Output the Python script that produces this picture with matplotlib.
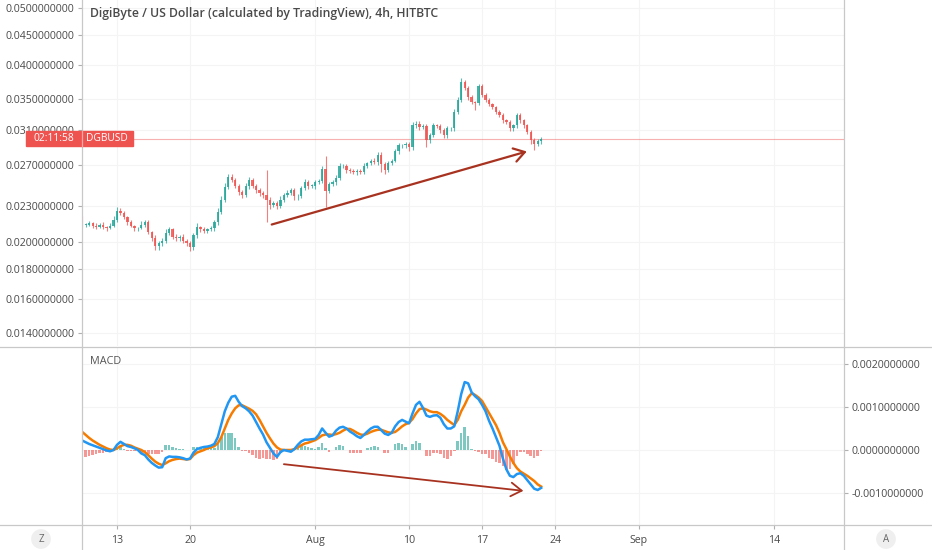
import numpy as np
import pandas as pd
import matplotlib
matplotlib.use('Agg')
import matplotlib.pyplot as plt
import matplotlib.dates as mdates
from matplotlib.patches import Rectangle
from matplotlib.lines import Line2D

plt.rcParams['font.family'] = ['Open Sans', 'DejaVu Sans']

# 8h candles, DGB/USD
first_open = 0.0218
closes = [
    0.0214, 0.0214, 0.0215, 0.0213, 0.0212, 0.0214, 0.0212, 0.0211, 0.0213, 0.0218,
    0.0226, 0.0224, 0.0220, 0.0216, 0.0213, 0.0211, 0.0211, 0.0214, 0.0216, 0.0208,
    0.0203, 0.0197, 0.0199, 0.0201, 0.0207, 0.0210, 0.0204, 0.0203, 0.0204, 0.0201,
    0.0199, 0.0196, 0.0205, 0.0212, 0.0210, 0.0209, 0.0210, 0.0211, 0.0216, 0.0225,
    0.0236, 0.0248, 0.0258, 0.0255, 0.0249, 0.0243, 0.0240, 0.0249, 0.0255, 0.0249,
    0.0245, 0.0242, 0.0240, 0.0236, 0.0231, 0.0233, 0.0230, 0.0236, 0.0240, 0.0242,
    0.0245, 0.0239, 0.0239, 0.0247, 0.0253, 0.0249, 0.0249, 0.0253, 0.0254, 0.0266,
    0.0244, 0.0251, 0.0253, 0.0257, 0.0269, 0.0269, 0.0265, 0.0264, 0.0263, 0.0264,
    0.0263, 0.0269, 0.0272, 0.0275, 0.0273, 0.0281, 0.0271, 0.0265, 0.0272, 0.0275,
    0.0285, 0.0292, 0.0292, 0.0294, 0.0290, 0.0316, 0.0318, 0.0314, 0.0315, 0.0298,
    0.0304, 0.0316, 0.0315, 0.0310, 0.0304, 0.0312, 0.0312, 0.0333, 0.0349, 0.0374,
    0.0365, 0.0353, 0.0346, 0.0345, 0.0369, 0.0356, 0.0349, 0.0343, 0.0339, 0.0333,
    0.0329, 0.0322, 0.0320, 0.0312, 0.0316, 0.0329, 0.0322, 0.0316, 0.0308, 0.0298,
    0.0294, 0.0297, 0.0299]

# wick lengths above / below the body, in units of 0.0001
up_wick = [
    3, 1, 2, 1, 2, 1, 2, 1, 2, 3,
    3, 2, 2, 1, 2, 1, 1, 3, 2, 2,
    1, 2, 2, 2, 3, 2, 1, 2, 1, 2,
    1, 2, 2, 3, 1, 2, 1, 2, 2, 3,
    3, 4, 3, 3, 2, 2, 2, 3, 3, 2,
    2, 2, 2, 25, 2, 2, 2, 3, 2, 3,
    2, 2, 2, 2, 3, 2, 2, 2, 2, 3,
    14, 2, 2, 3, 3, 2, 2, 2, 2, 2,
    2, 3, 2, 2, 3, 3, 3, 2, 3, 2,
    3, 3, 2, 2, 2, 4, 3, 3, 3, 2,
    3, 3, 2, 2, 2, 3, 2, 4, 4, 6,
    3, 3, 2, 2, 3, 3, 2, 2, 2, 2,
    2, 2, 2, 2, 2, 3, 3, 2, 2, 2,
    2, 2, 3]
down_wick = [
    2, 2, 1, 2, 2, 1, 2, 2, 1, 1,
    2, 2, 1, 2, 1, 2, 2, 1, 2, 2,
    2, 3, 3, 2, 2, 2, 2, 2, 2, 2,
    2, 3, 2, 2, 2, 2, 2, 1, 2, 2,
    2, 2, 2, 2, 2, 3, 3, 2, 3, 2,
    3, 3, 3, 20, 4, 2, 3, 2, 2, 2,
    2, 3, 3, 2, 2, 3, 2, 3, 2, 2,
    15, 2, 2, 3, 2, 2, 3, 2, 2, 3,
    2, 2, 2, 2, 2, 3, 8, 4, 2, 2,
    2, 3, 3, 3, 4, 3, 3, 4, 3, 8,
    3, 2, 3, 3, 4, 3, 3, 3, 3, 3,
    3, 4, 3, 10, 3, 3, 3, 3, 3, 3,
    3, 3, 3, 3, 3, 3, 3, 3, 3, 5,
    7, 3, 3]

macd = [
    0.00022, 0.00018, 0.00014, 0.00011, 0.00008, 0.00005, 0.00002, -0.00001, -0.00003, 0.00000,
    0.00012, 0.00019, 0.00014, 0.00009, 0.00007, 0.00004, 0.00000, -0.00008, -0.00012, -0.00022,
    -0.00030, -0.00036, -0.00041, -0.00040, -0.00019, -0.00015, -0.00016, -0.00016, -0.00017, -0.00019,
    -0.00022, -0.00020, -0.00006, 0.00002, 0.00005, 0.00007, 0.00008, 0.00010, 0.00014, 0.00030,
    0.00060, 0.00090, 0.00110, 0.00124, 0.00126, 0.00112, 0.00102, 0.00097, 0.00090, 0.00080,
    0.00065, 0.00050, 0.00036, 0.00018, 0.00005, -0.00008, -0.00016, -0.00005, 0.00000, -0.00002,
    -0.00004, 0.00002, 0.00012, 0.00020, 0.00024, 0.00024, 0.00025, 0.00026, 0.00035, 0.00050,
    0.00040, 0.00031, 0.00034, 0.00045, 0.00052, 0.00054, 0.00050, 0.00043, 0.00038, 0.00032,
    0.00028, 0.00035, 0.00043, 0.00050, 0.00054, 0.00054, 0.00046, 0.00038, 0.00035, 0.00040,
    0.00055, 0.00065, 0.00070, 0.00066, 0.00062, 0.00085, 0.00105, 0.00112, 0.00098, 0.00080,
    0.00077, 0.00080, 0.00081, 0.00075, 0.00060, 0.00050, 0.00050, 0.00055, 0.00090, 0.00130,
    0.00158, 0.00155, 0.00134, 0.00125, 0.00118, 0.00105, 0.00090, 0.00068, 0.00050, 0.00030,
    0.00010, -0.00020, -0.00045, -0.00060, -0.00063, -0.00056, -0.00054, -0.00060, -0.00070, -0.00080,
    -0.00090, -0.00093, -0.00088]
signal = [
    0.00042, 0.00035, 0.00028, 0.00022, 0.00017, 0.00012, 0.00008, 0.00004, 0.00001, 0.00000,
    0.00004, 0.00009, 0.00012, 0.00012, 0.00010, 0.00006, 0.00003, 0.00000, -0.00005, -0.00012,
    -0.00020, -0.00027, -0.00032, -0.00035, -0.00031, -0.00026, -0.00023, -0.00021, -0.00020, -0.00021,
    -0.00022, -0.00021, -0.00012, -0.00006, -0.00003, 0.00000, 0.00004, 0.00006, 0.00009, 0.00016,
    0.00030, 0.00050, 0.00070, 0.00085, 0.00097, 0.00104, 0.00104, 0.00100, 0.00096, 0.00091,
    0.00083, 0.00070, 0.00055, 0.00040, 0.00027, 0.00015, 0.00006, 0.00001, 0.00000, 0.00000,
    0.00000, 0.00002, 0.00006, 0.00011, 0.00015, 0.00017, 0.00020, 0.00023, 0.00028, 0.00034,
    0.00036, 0.00036, 0.00035, 0.00037, 0.00040, 0.00045, 0.00049, 0.00049, 0.00045, 0.00040,
    0.00036, 0.00035, 0.00038, 0.00042, 0.00045, 0.00047, 0.00047, 0.00044, 0.00041, 0.00040,
    0.00042, 0.00048, 0.00055, 0.00060, 0.00063, 0.00072, 0.00085, 0.00095, 0.00097, 0.00094,
    0.00090, 0.00088, 0.00088, 0.00084, 0.00078, 0.00070, 0.00064, 0.00058, 0.00070, 0.00090,
    0.00105, 0.00122, 0.00132, 0.00128, 0.00122, 0.00114, 0.00100, 0.00086, 0.00072, 0.00058,
    0.00040, 0.00018, 0.00002, -0.00015, -0.00030, -0.00042, -0.00050, -0.00055, -0.00060, -0.00066,
    -0.00072, -0.00080, -0.00085]

price_ticks = [0.014, 0.016, 0.018, 0.020, 0.023, 0.027, 0.031, 0.035, 0.040, 0.045, 0.050]
macd_ticks = [-0.001, 0.0, 0.001, 0.002]
date_ticks = ['2020-07-13', '2020-07-20', '2020-08-01', '2020-08-10',
              '2020-08-17', '2020-08-24', '2020-09-01', '2020-09-14']
date_labels = ['13', '20', 'Aug', '10', '17', '24', 'Sep', '14']

# trendlines drawn on the chart (time, value)
price_arrow = [('2020-07-27 20:00', 0.0214), ('2020-08-21 07:00', 0.0285)]
macd_arrow = [('2020-07-29 00:00', -0.00033), ('2020-08-20 23:00', -0.00095)]

times = pd.date_range('2020-07-09 16:00', periods=len(closes), freq='8h')
t = mdates.date2num(times.to_pydatetime())

closes = np.array(closes)
opens = np.r_[first_open, closes[:-1]]
highs = np.maximum(opens, closes) + np.array(up_wick) * 1e-4
lows = np.minimum(opens, closes) - np.array(down_wick) * 1e-4
macd = np.array(macd)
signal = np.array(signal)
hist = macd - signal

UP = '#26a69a'
DOWN = '#ef5350'
GRID = '#f4f4f4'
SEP = '#c8c8c8'
TXT = '#4a4a4a'
ARROW = '#a83220'

W, H = 932, 550
fig = plt.figure(figsize=(W / 100, H / 100), dpi=100)
left, right = 82, 844
ax1 = fig.add_axes([left / W, 1 - 346 / H, (right - left) / W, 346 / H])
ax2 = fig.add_axes([left / W, 1 - 525 / H, (right - left) / W, (525 - 347) / H], sharex=ax1)

xmin = mdates.date2num(pd.Timestamp('2020-07-09 15:27'))
xmax = mdates.date2num(pd.Timestamp('2020-09-20 16:48'))

# ---- price panel
colors = np.where(closes >= opens, UP, DOWN)
ax1.vlines(t, lows, highs, colors=colors, lw=0.8, alpha=0.75, zorder=2)
body = np.maximum(np.abs(closes - opens), 0.00004)
ax1.bar(t, body, bottom=np.minimum(opens, closes), width=0.22, color=colors,
        alpha=0.85, zorder=3)
ax1.axhline(closes[-1], color=DOWN, lw=0.8, alpha=0.45, zorder=1)

ax1.set_yscale('log')
ax1.set_ylim(0.01329, 0.05162)
ax1.set_xlim(xmin, xmax)
ax1.set_yticks(price_ticks)
ax1.set_yticklabels(['%.10f' % v for v in price_ticks])
ax1.yaxis.set_minor_locator(matplotlib.ticker.NullLocator())
ax1.tick_params(axis='y', length=3, width=0.8, color='#b0b0b0', labelsize=7.6,
                labelcolor=TXT, pad=2.5)
ax1.tick_params(axis='x', bottom=False, labelbottom=False)
for y in price_ticks:
    ax1.axhline(y, color=GRID, lw=0.8, zorder=0)

(s0, v0), (s1, v1) = price_arrow
ax1.annotate('', xy=(mdates.date2num(pd.Timestamp(s1)), v1),
             xytext=(mdates.date2num(pd.Timestamp(s0)), v0),
             arrowprops=dict(arrowstyle='->,head_length=0.55,head_width=0.35',
                             color=ARROW, lw=1.6, mutation_scale=14,
                             shrinkA=0, shrinkB=0), zorder=5)

# ---- MACD panel
hcol = np.where(hist >= 0, UP, DOWN)
ax2.bar(t, hist, width=0.24, color=hcol, alpha=0.6, zorder=2)
ax2.plot(t, macd, color='#2196f3', lw=1.8, zorder=4)
ax2.plot(t, signal, color='#f57c00', lw=1.8, zorder=3)

ax2.set_ylim(-0.001744, 0.002395)
ax2.yaxis.tick_right()
ax2.set_yticks(macd_ticks)
ax2.set_yticklabels(['%.10f' % v for v in macd_ticks])
ax2.tick_params(axis='y', length=3, width=0.8, color='#b0b0b0', labelsize=7.6,
                labelcolor=TXT, pad=2.5, left=False, right=True)
for y in macd_ticks:
    ax2.axhline(y, color=GRID, lw=0.8, zorder=0)

tick_pos = [mdates.date2num(pd.Timestamp(d)) for d in date_ticks]
ax2.set_xticks(tick_pos)
ax2.set_xticklabels(date_labels)
ax2.tick_params(axis='x', length=3, width=0.8, color='#b0b0b0', labelsize=7.6,
                labelcolor=TXT, pad=4)
for x in tick_pos:
    ax1.axvline(x, color=GRID, lw=0.8, zorder=0)
    ax2.axvline(x, color=GRID, lw=0.8, zorder=0)
ax2.set_xlim(xmin, xmax)

(s0, v0), (s1, v1) = macd_arrow
ax2.annotate('', xy=(mdates.date2num(pd.Timestamp(s1)), v1),
             xytext=(mdates.date2num(pd.Timestamp(s0)), v0),
             arrowprops=dict(arrowstyle='->,head_length=0.55,head_width=0.35',
                             color=ARROW, lw=1.3, mutation_scale=14,
                             shrinkA=0, shrinkB=0), zorder=5)

for ax in (ax1, ax2):
    for sp in ax.spines.values():
        sp.set_visible(False)

# ---- separators
def fline(x0, y0, x1, y1, z=4):
    fig.add_artist(Line2D([x0 / W, x1 / W], [1 - y0 / H, 1 - y1 / H],
                          transform=fig.transFigure, color=SEP, lw=0.9, zorder=z))

fline(left, 0, left, H)
fline(right, 0, right, H)
fline(0, 346.5, W, 346.5)
fline(0, 525, W, 525)

# ---- text
fig.text(90 / W, 1 - 14 / H, 'DigiByte / US Dollar (calculated by TradingView), 4h, HITBTC',
         fontsize=8.8, color=TXT, fontweight='semibold', va='center', ha='left')
fig.text(90 / W, 1 - 362 / H, 'MACD', fontsize=7.8, color='#555555', va='center', ha='left')

# last price tag, drawn over the 0.031 label as in the original
fig.add_artist(Rectangle((26 / W, 1 - 146 / H), (133 - 26) / W, 15 / H,
                         transform=fig.transFigure, color=DOWN, zorder=6))
fig.text(54 / W, 1 - 138.5 / H, '02:11:58', fontsize=7.4, color='white',
         ha='center', va='center', zorder=7)
fig.text(107 / W, 1 - 138.5 / H, 'DGBUSD', fontsize=7.4, color='white',
         ha='center', va='center', zorder=7)
fig.add_artist(Line2D([left / W, left / W], [1 - 146 / H, 1 - 131 / H],
                      transform=fig.transFigure, color='#f7a9a8', lw=0.9, zorder=7))

for x, s in ((41, 'Z'), (886, 'A')):
    fig.text(x / W, 1 - 539 / H, s, fontsize=7, color='#666666', ha='center', va='center',
             bbox=dict(boxstyle='circle,pad=0.45', fc='#efefef', ec='none'))

fig.savefig('out.png', dpi=100)
